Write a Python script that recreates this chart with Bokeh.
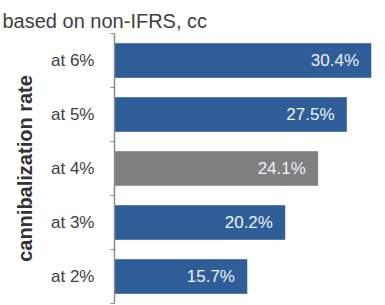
from bokeh.plotting import figure
from bokeh.models import ColumnDataSource, FixedTicker, Range1d
from bokeh.core.properties import value
from bokeh.embed import file_html
from bokeh.resources import INLINE

# Data
categories = ["at 2%", "at 3%", "at 4%", "at 5%", "at 6%"]
rates = [15.7, 20.2, 24.1, 27.5, 30.4]
base_case = "at 4%"

BLUE = "#2E5D97"
GREY = "#808080"
FONT = "Liberation Sans"

ypos = [i + 0.5 for i in range(len(categories))]
colors = [GREY if c == base_case else BLUE for c in categories]
labels = [f"{v:.1f}%" for v in rates]

src = ColumnDataSource(dict(y=ypos, v=rates, color=colors, label=labels, cat=categories))

p = figure(width=385, height=305, output_backend="svg", toolbar_location=None,
           x_range=Range1d(0, 32), y_range=Range1d(0, len(categories)),
           min_border_left=114, min_border_right=1, min_border_top=33, min_border_bottom=2)
p.outline_line_color = None
p.grid.visible = False
p.background_fill_color = "white"
p.border_fill_color = "white"

p.title.text = "based on non-IFRS, cc"
p.title.align = "left"
p.title.vertical_align = "top"
p.title.offset = -112
p.title.standoff = 0
p.title.text_font = FONT
p.title.text_font_size = "20px"
p.title.text_font_style = "normal"
p.title.text_color = "#404040"

p.hbar(y="y", left=0, right="v", height=0.63, fill_color="color",
       line_color="color", line_alpha=0.6, source=src)

p.text(x="v", y="y", text="label", source=src, x_offset=-12,
       text_align="right", text_baseline="middle", text_color="#EEF2F7",
       text_font_size="17px", text_font=value(FONT))

# x axis hidden; y axis shows category names with ticks between bars
p.xaxis.visible = False
ya = p.yaxis[0]
ya.ticker = FixedTicker(ticks=ypos, minor_ticks=list(range(len(categories) + 1)))
ya.major_label_overrides = {y: c for y, c in zip(ypos, categories)}
ya.major_tick_out = 0
ya.major_tick_in = 0
ya.minor_tick_out = 4
ya.minor_tick_in = 0
ya.minor_tick_line_color = "#8C8C8C"
ya.axis_line_color = "#8C8C8C"
ya.axis_line_width = 1.5
ya.major_label_standoff = 16
ya.major_label_text_font = FONT
ya.major_label_text_font_size = "17px"
ya.major_label_text_color = "#404040"
ya.axis_label = "cannibalization rate"
ya.axis_label_standoff = 12
ya.axis_label_text_font = FONT
ya.axis_label_text_font_size = "20px"
ya.axis_label_text_font_style = "bold"
ya.axis_label_text_color = "#333333"

open("out.html", "w").write(file_html(p, INLINE))
